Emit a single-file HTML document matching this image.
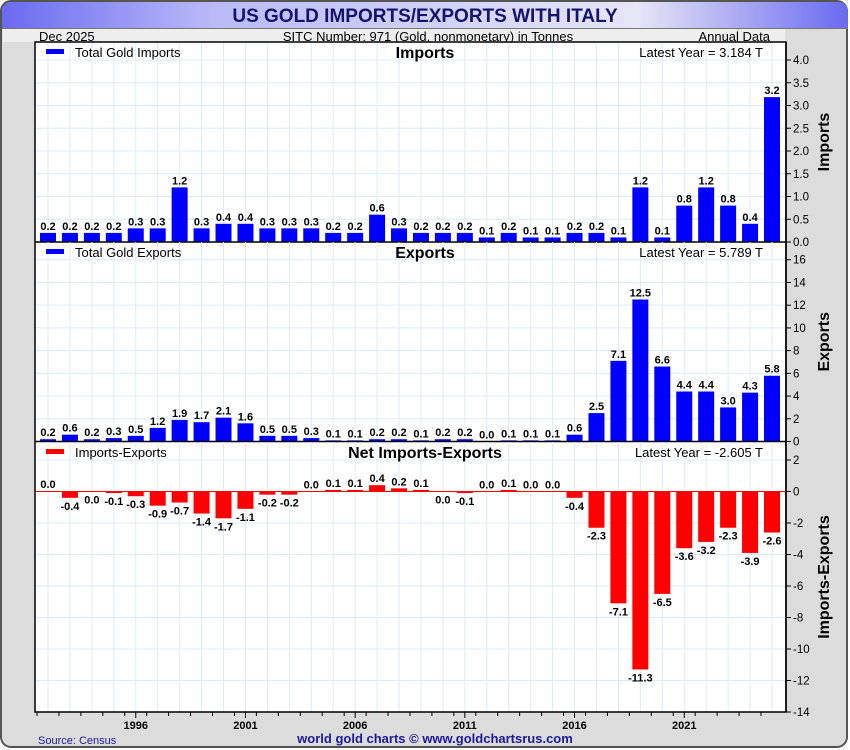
<!DOCTYPE html>
<html><head><meta charset="utf-8"><style>
body{margin:0;background:#fff;font-family:"Liberation Sans",sans-serif}
svg{display:block}
</style></head><body>
<svg id="c" width="850" height="750" xmlns="http://www.w3.org/2000/svg" font-family="Liberation Sans, sans-serif">
<defs><linearGradient id="tg" x1="0" x2="1"><stop offset="0" stop-color="#6a6af0"/><stop offset="0.25" stop-color="#babaf8"/><stop offset="0.75" stop-color="#e6e6f6"/><stop offset="1" stop-color="#6a6af0"/></linearGradient></defs>
<rect x="1" y="1" width="846" height="746" rx="10" fill="#dcdcdc" stroke="#555" stroke-width="2"/>
<path d="M2 28 V12 Q2 2 12 2 H838 Q848 2 848 12 V28 Z" fill="url(#tg)"/>
<line x1="2" y1="28.5" x2="848" y2="28.5" stroke="#777"/>
<text x="425" y="22" text-anchor="middle" font-size="19" font-weight="bold" fill="#14146e">US GOLD IMPORTS/EXPORTS WITH ITALY</text>
<rect x="3" y="29" width="782" height="13" fill="#eeeeee"/>
<text x="39" y="41" font-size="13">Dec  2025</text>
<text x="428" y="41" font-size="13" text-anchor="middle">SITC Number: 971 (Gold, nonmonetary) in Tonnes</text>
<text x="770" y="41" font-size="13" text-anchor="end">Annual Data</text>
<rect x="35" y="42" width="751" height="670" fill="#fff"/>
<g id="g"></g>
<rect x="35" y="42" width="751" height="670" fill="none" stroke="#000" stroke-width="1.5"/>
<text x="38" y="744" font-size="11" fill="#1a1a9a">Source: Census</text>
<text x="435" y="743" font-size="13" font-weight="bold" fill="#1a1a9a" text-anchor="middle">world gold charts © www.goldchartsrus.com</text>
</svg>
<script>
const years=[1992,1993,1994,1995,1996,1997,1998,1999,2000,2001,2002,2003,2004,2005,2006,2007,2008,2009,2010,2011,2012,2013,2014,2015,2016,2017,2018,2019,2020,2021,2022,2023,2024,2025];
const imports=[0.2,0.2,0.2,0.2,0.3,0.3,1.2,0.3,0.4,0.4,0.3,0.3,0.3,0.2,0.2,0.6,0.3,0.2,0.2,0.2,0.1,0.2,0.1,0.1,0.2,0.2,0.1,1.2,0.1,0.8,1.2,0.8,0.4,3.184];
const exports_=[0.2,0.6,0.2,0.3,0.5,1.2,1.9,1.7,2.1,1.6,0.5,0.5,0.3,0.1,0.1,0.2,0.2,0.1,0.2,0.2,0.02,0.1,0.1,0.1,0.6,2.5,7.1,12.5,6.6,4.4,4.4,3.0,4.3,5.789];
const net=[0.02,-0.4,-0.01,-0.1,-0.3,-0.9,-0.7,-1.4,-1.7,-1.1,-0.2,-0.2,0.0,0.1,0.1,0.4,0.2,0.1,-0.01,-0.1,0.0,0.1,0.0,0.0,-0.4,-2.3,-7.1,-11.3,-6.5,-3.6,-3.2,-2.3,-3.9,-2.605];
const impTicks=[0,0.5,1,1.5,2,2.5,3,3.5,4];
const expTicks=[0,2,4,6,8,10,12,14,16];
const netTicks=[2,0,-2,-4,-6,-8,-10,-12,-14];
const yearLabels=[1996,2001,2006,2011,2016,2021];
const NS='http://www.w3.org/2000/svg',g=document.getElementById('g');
function el(t,a,txt){const e=document.createElementNS(NS,t);for(const k in a)e.setAttribute(k,a[k]);if(txt!==undefined)e.textContent=txt;g.appendChild(e);return e;}
const L=35,R=786;
const x=i=>48+i*(772-48)/(years.length-1);
const xYear=y=>x(y-years[0]);
const panels=[
 {name:'imports',data:imports,ticks:impTicks,fmt:v=>v.toFixed(1),y0:242,top:42,scale:45.5,color:'#0000ff',legend:'Total Gold Imports',title:'Imports',latest:'Latest Year = 3.184 T',grid:impTicks},
 {name:'exports',data:exports_,ticks:expTicks,fmt:v=>String(v),y0:441.5,top:242,scale:11.36,color:'#0000ff',legend:'Total Gold Exports',title:'Exports',latest:'Latest Year = 5.789 T',grid:expTicks},
 {name:'net',data:net,ticks:netTicks,fmt:v=>String(v),y0:491.5,top:442,scale:15.75,color:'#ff0000',legend:'Imports-Exports',title:'Net Imports-Exports',latest:'Latest Year = -2.605 T',grid:netTicks}
];
panels.forEach((p,pi)=>{
 const bot=pi==2?712:p.y0;
 const Y=v=>p.y0-v*p.scale;
 for(let i=0;i<years.length;i++){const l=el('line',{x1:x(i),x2:x(i),y1:p.top,y2:bot,stroke:'#dcebf7'});}
 p.grid.forEach(v=>{const yy=Y(v);if(yy>p.top+1&&yy<bot-1){const l=el('line',{x1:L,x2:R,y1:yy,y2:yy,stroke:'#dcebf7'});}});
 p.ticks.forEach(v=>{const yy=Y(v);el('line',{x1:R,x2:R+5,y1:yy,y2:yy,stroke:'#000'});const t=el('text',{x:R+7,y:yy+4,'font-size':11.5},p.fmt(v));});
 p.data.forEach((v,i)=>{
  const y1=Y(Math.max(v,0)),y2=Y(Math.min(v,0));
  const b=el('rect',{x:x(i)-8,y:y1,width:16,height:Math.max(y2-y1,0.5),fill:p.color});
  
  const lab=(Math.abs(v)<0.05?0:v).toFixed(1);
  const ty=v>=0?y1-3:y2+12;
  const t=el('text',{x:x(i),y:ty,'font-size':11,'font-weight':'bold','text-anchor':'middle'},lab);
  
 });
 if(pi==2){el('line',{x1:L,x2:R,y1:p.y0,y2:p.y0,stroke:'#ff0000'});}
 else el('line',{x1:L,x2:R,y1:p.y0,y2:p.y0,stroke:'#000','stroke-width':1.5});
 const ly=p.top+10;
 const lm=el('rect',{x:46,y:ly-3,width:18,height:5,fill:p.color});
 const lt=el('text',{x:75,y:ly+5,'font-size':13},p.legend);
 const tt=el('text',{x:425,y:ly+6,'font-size':16,'font-weight':'bold','text-anchor':'middle'},p.title);
 const la=el('text',{x:763,y:ly+5,'font-size':13,'text-anchor':'end'},p.latest);
 const cy=(p.top+bot)/2;
 const at=el('text',{x:829,y:cy,'font-size':16,'font-weight':'bold','text-anchor':'middle',transform:`rotate(-90 829 ${cy})`},pi==2?'Imports-Exports':p.title);
 
});
el('line',{x1:R,x2:R,y1:42,y2:712,stroke:'#000','stroke-width':1.5});
for(let i=0;i<years.length;i++){el('line',{x1:x(i)-11,x2:x(i)-11,y1:712,y2:716,stroke:'#000'});}
yearLabels.forEach(yr=>{const xx=xYear(yr);el('line',{x1:xx,x2:xx,y1:712,y2:718,stroke:'#000'});const t=el('text',{x:xx,y:729,'font-size':11,'font-weight':'bold','text-anchor':'middle'},yr);});
</script>
</body></html>
